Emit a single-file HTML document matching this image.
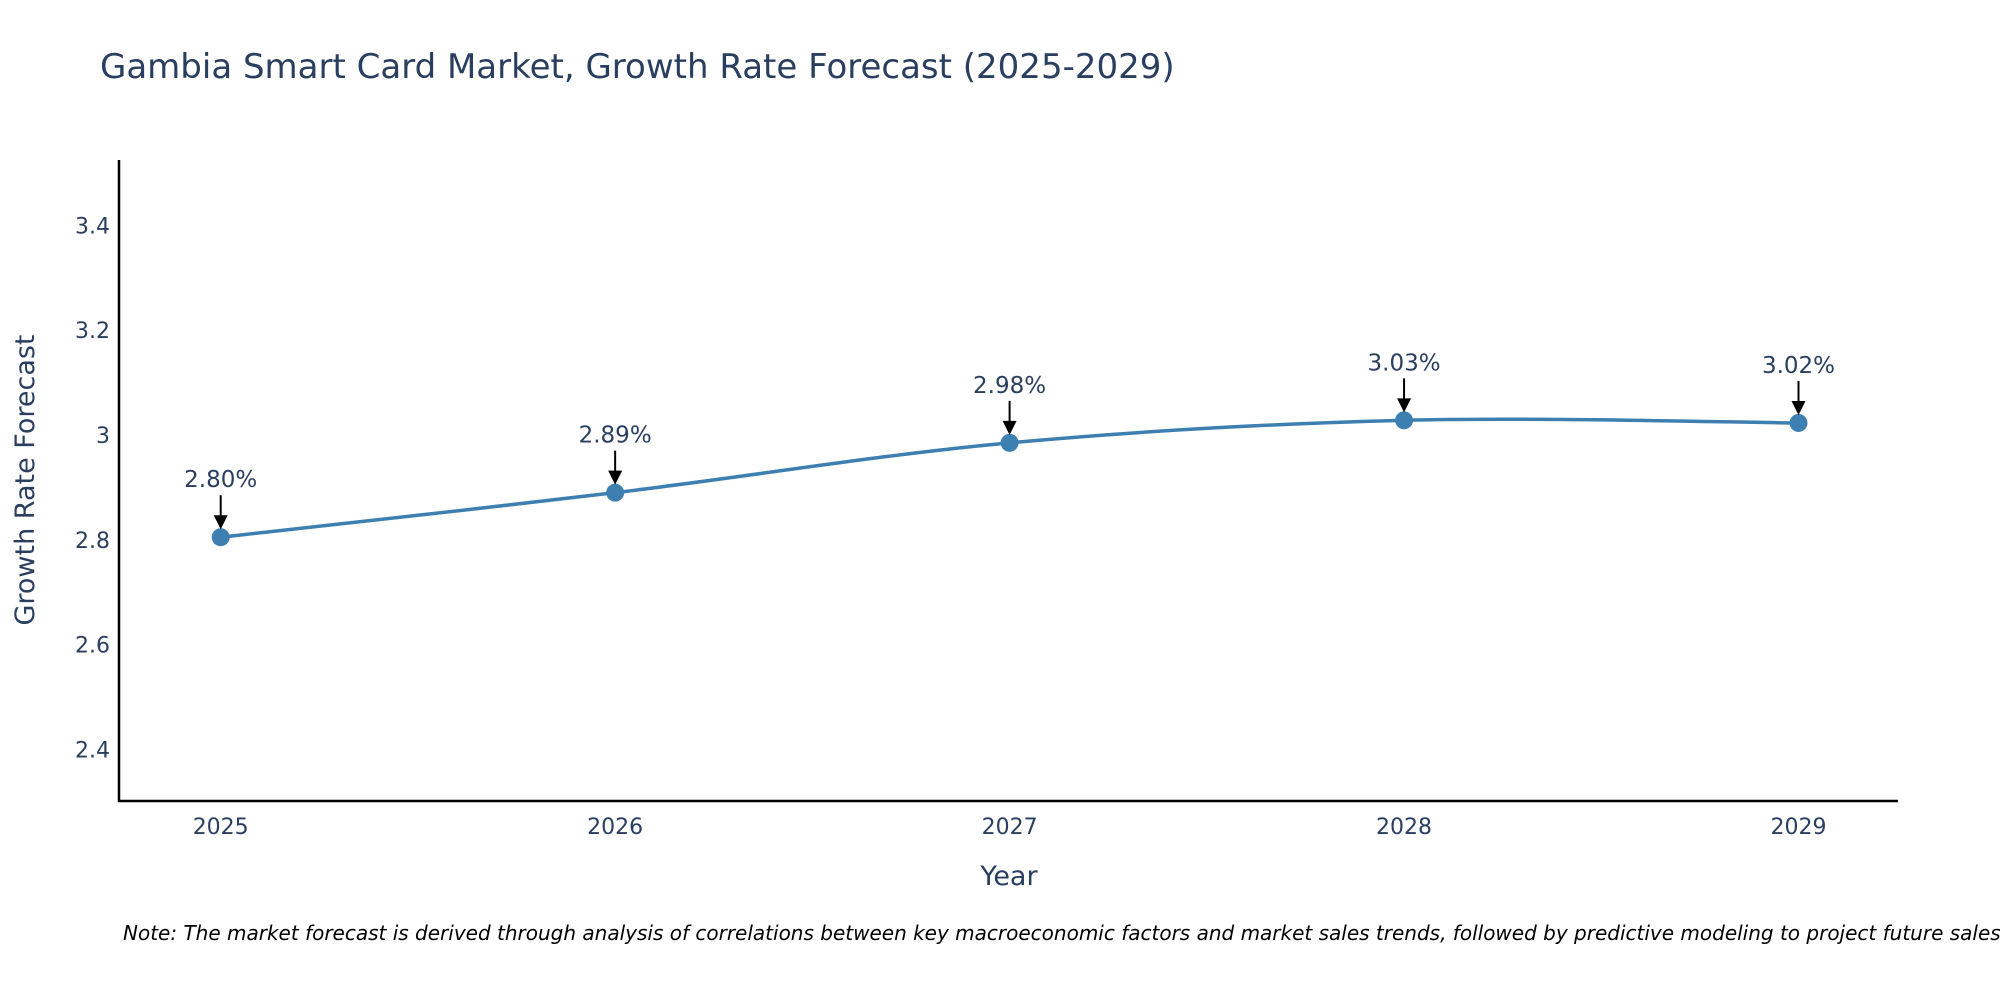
<!DOCTYPE html>
<html><head><meta charset="utf-8"><style>
body{margin:0;background:#fff;}
svg text{font-family:"DejaVu Sans","Liberation Sans",sans-serif;}
</style></head><body>
<svg id="chart" width="2000" height="1000" xmlns="http://www.w3.org/2000/svg">
<text x="100" y="78" font-size="34" fill="#2a3f5f">Gambia Smart Card Market, Growth Rate Forecast (2025-2029)</text>
<g id="yticks"></g><g id="xticks"></g>
<line x1="119" y1="160" x2="119" y2="802" stroke="#000" stroke-width="2.5"/>
<line x1="118" y1="801" x2="1898" y2="801" stroke="#000" stroke-width="2.5"/>
<text transform="translate(34,480) rotate(-90)" text-anchor="middle" font-size="27" fill="#2a3f5f">Growth Rate Forecast</text>
<text x="1009" y="885" text-anchor="middle" font-size="27" fill="#2a3f5f">Year</text>
<g id="series"></g>
<text x="123" y="940" font-size="20" font-style="italic" fill="#000">Note: The market forecast is derived through analysis of correlations between key macroeconomic factors and market sales trends, followed by predictive modeling to project future sales.</text>
</svg>
<script>
const years=[2025,2026,2027,2028,2029];
const values=[2.805,2.89,2.985,3.028,3.023];
const labels=["2.80%","2.89%","2.98%","3.03%","3.02%"];
const yTicks=[2.4,2.6,2.8,3,3.2,3.4];
const yTickLabels=["2.4","2.6","2.8","3","3.2","3.4"];
const NS="http://www.w3.org/2000/svg";
function xs(v){return 220.7+(v-2025)*(1798.5-220.7)/4;}
function ys(v){return 435-(v-3.0)*524.2;}
function mk(t,a,p){const e=document.createElementNS(NS,t);for(const k in a)e.setAttribute(k,a[k]);p.appendChild(e);return e;}
const yt=document.getElementById('yticks');
yTicks.forEach((v,i)=>{const t=mk('text',{x:110,y:ys(v)+8,'text-anchor':'end','font-size':22,fill:'#2a3f5f'},yt);


t.textContent=yTickLabels[i];});
const xt=document.getElementById('xticks');
years.forEach(v=>{const t=mk('text',{x:xs(v),y:834,'text-anchor':'middle','font-size':22,fill:'#2a3f5f'},xt);


t.textContent=v;});
const g=document.getElementById('series');
const P=years.map((y,i)=>[xs(y),ys(values[i])]);
let d='M'+P[0][0]+','+P[0][1];
for(let i=0;i<P.length-1;i++){const p0=P[Math.max(0,i-1)],p1=P[i],p2=P[i+1],p3=P[Math.min(P.length-1,i+2)];const s=1/6;
d+=` C${p1[0]+(p2[0]-p0[0])*s},${p1[1]+(p2[1]-p0[1])*s} ${p2[0]-(p3[0]-p1[0])*s},${p2[1]-(p3[1]-p1[1])*s} ${p2[0]},${p2[1]}`;}
const line=mk('path',{d:d,fill:'none',stroke:'#3d7fb0','stroke-width':3.5},g);


P.forEach((p,i)=>{const c=mk('circle',{cx:p[0],cy:p[1],r:9,fill:'#3d7fb0'},g);


const a=mk('line',{x1:p[0],y1:p[1]-42,x2:p[0],y2:p[1]-20,stroke:'#000','stroke-width':2},g);


const h=mk('polygon',{points:`${p[0]-7},${p[1]-22} ${p[0]+7},${p[1]-22} ${p[0]},${p[1]-8}`,fill:'#000'},g);


const t=mk('text',{x:p[0],y:p[1]-50,'text-anchor':'middle','font-size':23,fill:'#2a3f5f'},g);


t.textContent=labels[i];});
</script>
</body></html>
